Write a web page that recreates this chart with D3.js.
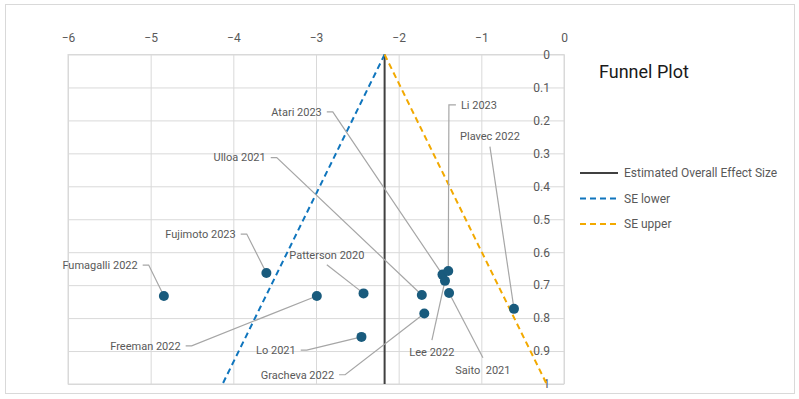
<!DOCTYPE html>
<html>
<head>
<meta charset="utf-8">
<script src="https://cdn.jsdelivr.net/npm/d3@7"></script>
<style>
  body { margin: 0; background: #fff; }
  #chart { width: 799px; height: 399px; }
  text { font-family: Roboto, "Liberation Sans", sans-serif; }
</style>
</head>
<body>
<div id="chart"></div>
<script>
// Data
const studies = ["Fumagalli 2022", "Fujimoto 2023", "Patterson 2020", "Atari 2023", "Ulloa 2021", "Li 2023",
  "Plavec 2022", "Freeman 2022", "Lo 2021", "Gracheva 2022", "Lee 2022", "Saito  2021"];
const effects = [-4.84, -3.60, -2.425, -1.47, -1.72, -1.40, -0.605, -2.99, -2.45, -1.69, -1.44, -1.39];
const standardErrors = [0.733, 0.663, 0.725, 0.668, 0.730, 0.657, 0.772, 0.733, 0.857, 0.786, 0.687, 0.724];
// label anchors, in data units (effect, SE)
const labelEffect = [-5.157, -3.971, -2.869, -2.930, -3.608, -1.247, -0.896, -4.637, -3.245, -2.781, -1.598, -0.981];
const labelSE = [0.639, 0.545, 0.608, 0.174, 0.313, 0.153, 0.249, 0.884, 0.897, 0.972, 0.903, 0.957];
const labelSide = ["left", "left", "above", "left", "left", "right", "above", "left", "left", "left", "below", "below"];

const lineSE = [0, 1];
const overallEffect = [-2.17, -2.17];
const seLower = [-2.17, -4.13];
const seUpper = [-2.17, -0.21];

const xTicks = [-6, -5, -4, -3, -2, -1, 0];
const yTicks = [0, 0.1, 0.2, 0.3, 0.4, 0.5, 0.6, 0.7, 0.8, 0.9, 1];
const legendLabels = ["Estimated Overall Effect Size", "SE lower", "SE upper"];

// SVG
const width = 799;
const height = 399;
const plot = { left: 68, right: 564, top: 54.5, bottom: 384 };
const svg = d3.select("#chart").append("svg").attr("width", width).attr("height", height);

// chart border
svg.append("rect")
  .attr("x", 5.5).attr("y", 4.5).attr("width", 789).attr("height", 389)
  .attr("fill", "#fff").attr("stroke", "#d9d9d9");

// Scales
const xScale = d3.scaleLinear().domain([-6, 0]).range([plot.left, plot.right]);
const yScale = d3.scaleLinear().domain([0, 1]).range([plot.top, plot.bottom]);

// Gridlines
svg.append("g")
  .attr("transform", `translate(0, ${plot.top})`)
  .call(d3.axisTop(xScale).tickValues(xTicks).tickSize(-(plot.bottom - plot.top)).tickFormat(""))
  .call((g) => g.select(".domain").remove())
  .selectAll("line").attr("stroke", "#d9d9d9");
svg.append("g")
  .attr("transform", `translate(${plot.right}, 0)`)
  .call(d3.axisLeft(yScale).tickValues(yTicks).tickSize(plot.right - plot.left).tickFormat(""))
  .call((g) => g.select(".domain").remove())
  .selectAll("line").attr("stroke", "#d9d9d9");

svg.append("rect")
  .attr("x", plot.left).attr("y", plot.top)
  .attr("width", plot.right - plot.left).attr("height", plot.bottom - plot.top)
  .attr("fill", "none").attr("stroke", "#d9d9d9");

// Axes labels
const xAxis = svg.append("g")
  .attr("transform", `translate(0, ${plot.top})`)
  .call(d3.axisTop(xScale).tickValues(xTicks).tickSize(0).tickPadding(13).tickFormat(d3.format("d")));
xAxis.select(".domain").remove();
xAxis.selectAll(".tick text").attr("font-size", 12).attr("fill", "#595959").attr("font-family", "Roboto");

const yAxis = svg.append("g")
  .attr("transform", `translate(${plot.right}, 0)`)
  .call(d3.axisLeft(yScale).tickValues(yTicks).tickSize(0).tickPadding(14).tickFormat(d3.format("")));
yAxis.select(".domain").remove();
yAxis.selectAll(".tick text").attr("font-size", 12).attr("fill", "#595959").attr("font-family", "Roboto");

// Funnel lines
const line = d3.line().x((d) => xScale(d[0])).y((d) => yScale(d[1]));
const series = [
  { xs: overallEffect, color: "#404040", dash: null },
  { xs: seLower, color: "#0f75bd", dash: "6,4" },
  { xs: seUpper, color: "#f2a900", dash: "6,4" },
];
series.forEach((s) => {
  svg.append("path")
    .attr("d", line(s.xs.map((x, i) => [x, lineSE[i]])))
    .attr("fill", "none")
    .attr("stroke", s.color)
    .attr("stroke-width", 2)
    .attr("stroke-dasharray", s.dash);
});

// Leader lines
const leaders = svg.append("g");
studies.forEach((d, i) => {
  const lx = xScale(labelEffect[i]);
  const ly = yScale(labelSE[i]);
  const px = xScale(effects[i]);
  const py = yScale(standardErrors[i]);
  let pts;
  if (labelSide[i] === "left") pts = [[lx + 5, ly], [lx + 11, ly], [px, py]];
  else if (labelSide[i] === "right") pts = [[lx - 5, ly], [lx - 12, ly], [px, py]];
  else if (labelSide[i] === "above") pts = [[lx, ly + 10], [px, py]];
  else pts = [[lx, ly - 12], [px, py]];
  leaders.append("path")
    .attr("d", d3.line()(pts))
    .attr("fill", "none")
    .attr("stroke", "#a6a6a6")
    .attr("stroke-width", 1.2);
});

// Points
svg.append("g").selectAll("circle")
  .data(effects)
  .enter()
  .append("circle")
  .attr("cx", (d) => xScale(d))
  .attr("cy", (d, i) => yScale(standardErrors[i]))
  .attr("r", 5)
  .attr("fill", "#195b7d");

// Labels
svg.append("g").selectAll("text")
  .data(studies)
  .enter()
  .append("text")
  .attr("x", (d, i) => xScale(labelEffect[i]))
  .attr("y", (d, i) => yScale(labelSE[i]))
  .attr("dy", "0.35em")
  .attr("font-size", 11)
  .attr("fill", "#595959")
  .attr("text-anchor", (d, i) => labelSide[i] === "left" ? "end" : labelSide[i] === "right" ? "start" : "middle")
  .style("white-space", "pre")
  .text((d) => d);

// Title
svg.append("text")
  .attr("x", 599).attr("y", 72).attr("dy", "0.35em")
  .attr("font-size", 18).attr("fill", "#1a1a1a")
  .text("Funnel Plot");

// Legend
const legend = svg.append("g").attr("transform", "translate(580, 173)");
legendLabels.forEach((name, i) => {
  const s = series[i];
  const row = legend.append("g").attr("transform", `translate(0, ${i * 25.5})`);
  row.append("line")
    .attr("x1", 0).attr("x2", 38).attr("y1", 0).attr("y2", 0)
    .attr("stroke", s.color).attr("stroke-width", 2)
    .attr("stroke-dasharray", s.dash);
  row.append("text")
    .attr("x", 44).attr("y", 0).attr("dy", "0.35em")
    .attr("font-size", 12).attr("fill", "#595959")
    .text(name);
});
</script>
</body>
</html>
